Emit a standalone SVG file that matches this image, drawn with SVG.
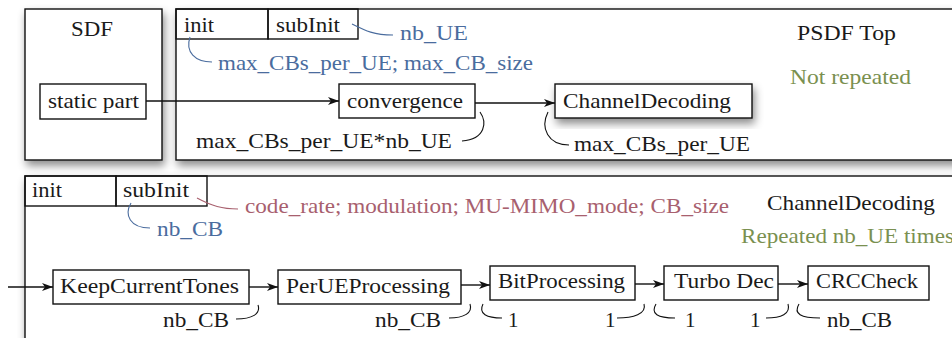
<svg xmlns="http://www.w3.org/2000/svg" width="952" height="338" viewBox="0 0 952 338">
<defs>
<filter id="sh" x="-10%" y="-10%" width="130%" height="140%">
<feDropShadow dx="2" dy="5" stdDeviation="4" flood-color="#000" flood-opacity="0.45"/>
</filter>
<marker id="ah" markerWidth="12" markerHeight="10" refX="11" refY="5" orient="auto" markerUnits="userSpaceOnUse">
<path d="M0,1 L11,5 L0,9 L3,5 Z" fill="#111"/>
</marker>
</defs>
<style>
text{font-size:21px;fill:#1a1a1a}
.blue{fill:#4a6c9e}
.rose{fill:#a8606e}
.olive{fill:#7a9050}
.box{fill:#fff;stroke:#111;stroke-width:1.4}
.cell{fill:none;stroke:#111;stroke-width:1.4}
.con{fill:none;stroke:#111;stroke-width:1.4}
.rate{fill:none;stroke:#111;stroke-width:1.1}
.rb{fill:none;stroke:#4a6c9e;stroke-width:1.1}
.rr{fill:none;stroke:#a8606e;stroke-width:1.1}
</style>
<rect width="952" height="338" fill="#fff"/>
<g font-family="Liberation Serif, DejaVu Serif, serif" font-size="21">

<g id="sdf">
<rect class="box" x="25" y="9" width="137" height="151" filter="url(#sh)"/>
<text x="71" y="36" textLength="42" lengthAdjust="spacingAndGlyphs">SDF</text>
</g>

<g id="psdf-top">
<rect class="box" x="176" y="9" width="800" height="151" filter="url(#sh)"/>
<rect class="cell" x="176" y="9" width="92" height="30"/>
<rect class="cell" x="268" y="9" width="90" height="30"/>
<text x="184" y="32" textLength="30" lengthAdjust="spacingAndGlyphs">init</text>
<text x="276" y="32" textLength="64" lengthAdjust="spacingAndGlyphs">subInit</text>
<text x="797" y="40" textLength="99" lengthAdjust="spacingAndGlyphs">PSDF Top</text>
<text class="olive" x="790" y="84" textLength="121" lengthAdjust="spacingAndGlyphs">Not repeated</text>
<text class="blue" x="400" y="40" textLength="68" lengthAdjust="spacingAndGlyphs">nb_UE</text>
<text class="blue" x="218" y="70" textLength="315" lengthAdjust="spacingAndGlyphs">max_CBs_per_UE; max_CB_size</text>
</g>

<g id="static-part">
<rect class="box" x="40" y="84" width="106" height="35"/>
<text x="48" y="108" textLength="91" lengthAdjust="spacingAndGlyphs">static part</text>
</g>

<g id="convergence">
<rect class="box" x="339" y="84" width="136" height="34"/>
<text x="347" y="108" textLength="116" lengthAdjust="spacingAndGlyphs">convergence</text>
<text x="196" y="148" textLength="256" lengthAdjust="spacingAndGlyphs">max_CBs_per_UE*nb_UE</text>
</g>

<g id="channeldecoding-node">
<rect class="box" x="555" y="84" width="197" height="34" filter="url(#sh)"/>
<text x="563" y="108" textLength="168" lengthAdjust="spacingAndGlyphs">ChannelDecoding</text>
<text x="574" y="151" textLength="176" lengthAdjust="spacingAndGlyphs">max_CBs_per_UE</text>
</g>

<g id="channeldecoding-graph">
<rect class="box" x="25" y="176" width="960" height="180" filter="url(#sh)"/>
<rect class="cell" x="25" y="176" width="91" height="30"/>
<rect class="cell" x="116" y="176" width="91" height="30"/>
<text x="32" y="197" textLength="30" lengthAdjust="spacingAndGlyphs">init</text>
<text x="123" y="197" textLength="66" lengthAdjust="spacingAndGlyphs">subInit</text>
<text class="rose" x="245" y="213" textLength="484" lengthAdjust="spacingAndGlyphs">code_rate; modulation; MU-MIMO_mode; CB_size</text>
<text class="blue" x="157" y="236" textLength="66" lengthAdjust="spacingAndGlyphs">nb_CB</text>
<text x="767" y="210" textLength="168" lengthAdjust="spacingAndGlyphs">ChannelDecoding</text>
<text class="olive" x="741" y="243" textLength="213" lengthAdjust="spacingAndGlyphs">Repeated nb_UE times</text>
</g>

<g id="keepcurrenttones">
<rect class="box" x="53" y="270" width="196" height="34"/>
<text x="60" y="293" textLength="179" lengthAdjust="spacingAndGlyphs">KeepCurrentTones</text>
<text x="163" y="327" textLength="66" lengthAdjust="spacingAndGlyphs">nb_CB</text>
</g>

<g id="perueprocessing">
<rect class="box" x="278" y="270" width="183" height="34"/>
<text x="286" y="293" textLength="164" lengthAdjust="spacingAndGlyphs">PerUEProcessing</text>
<text x="375" y="327" textLength="66" lengthAdjust="spacingAndGlyphs">nb_CB</text>
</g>

<g id="bitprocessing">
<rect class="box" x="490" y="266" width="145" height="34"/>
<text x="498" y="288" textLength="127" lengthAdjust="spacingAndGlyphs">BitProcessing</text>
<text x="508" y="327">1</text>
<text x="605" y="327">1</text>
</g>

<g id="turbodec">
<rect class="box" x="664" y="266" width="114" height="34"/>
<text x="674" y="288" textLength="100" lengthAdjust="spacingAndGlyphs">Turbo Dec</text>
<text x="685" y="327">1</text>
<text x="750" y="327">1</text>
</g>

<g id="crccheck">
<rect class="box" x="808" y="266" width="121" height="34"/>
<text x="816" y="288" textLength="102" lengthAdjust="spacingAndGlyphs">CRCCheck</text>
<text x="827" y="327" textLength="65" lengthAdjust="spacingAndGlyphs">nb_CB</text>
</g>

</g>

<g id="connectors">
<path class="con" d="M146,101 L339,101" marker-end="url(#ah)"/>
<path class="con" d="M475,103 L555,103" marker-end="url(#ah)"/>
<path class="con" d="M8,287 L53,287" marker-end="url(#ah)"/>
<path class="con" d="M249,287 L278,287" marker-end="url(#ah)"/>
<path class="con" d="M461,285 L490,285" marker-end="url(#ah)"/>
<path class="con" d="M635,284 L664,284" marker-end="url(#ah)"/>
<path class="con" d="M778,284 L808,284" marker-end="url(#ah)"/>
</g>

<g id="annotation-curves">
<path class="rb" d="M190,37 C185,52 195,62 212,62"/>
<path class="rb" d="M352,24 C366,31 374,35 393,35"/>
<path class="rate" d="M480,112 C487,122 486,139 462,141"/>
<path class="rate" d="M548,112 C540,128 548,145 569,145"/>
<path class="rr" d="M197,198 C212,206 222,209 238,209"/>
<path class="rb" d="M131,203 C124,215 130,228 150,228"/>
<path class="rate" d="M236,319 C252,319 261,314 258,305"/>
<path class="rate" d="M449,318 C464,318 473,313 470,304"/>
<path class="rate" d="M483,304 C478,314 487,318 502,318"/>
<path class="rate" d="M617,318 C633,318 647,314 644,304"/>
<path class="rate" d="M656,304 C650,314 658,318 675,318"/>
<path class="rate" d="M766,318 C781,318 791,314 788,304"/>
<path class="rate" d="M799,304 C793,314 801,318 820,318"/>
</g>
</svg>
